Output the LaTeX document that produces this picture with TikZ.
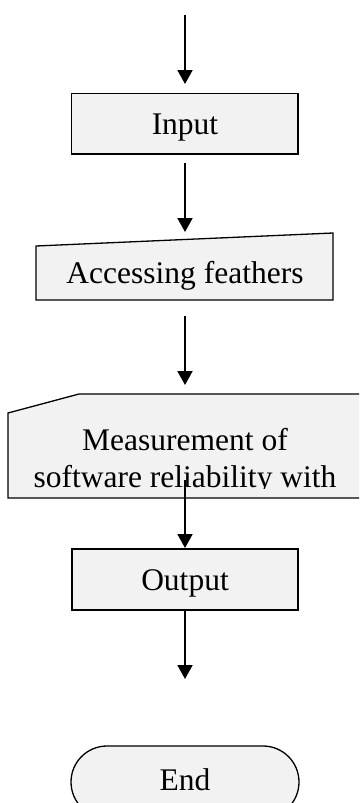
\documentclass[tikz,border=0pt]{standalone}
\usepackage{fontspec}
\setmainfont{Liberation Serif}
\usetikzlibrary{arrows.meta}
\definecolor{boxfill}{HTML}{F2F2F2}
\tikzset{
  shapebox/.style={draw=black, fill=boxfill, line width=1.3pt, line join=miter},
  label/.style={anchor=base, inner sep=0pt, font=\fontsize{31.5}{36}\selectfont},
  flow/.style={line width=2pt, -{Triangle[width=15pt,length=14pt]}}
}
\begin{document}
\begin{tikzpicture}[x=1pt,y=-1pt]
\useasboundingbox (0,0) rectangle (359,803);
\clip (0,0) rectangle (359,803);
% shapes
\path[shapebox] (71.5,93.5) rectangle (298,154);
\path[shapebox] (36,246) -- (333,233) -- (333,300) -- (36,300) -- cycle;
\path[shapebox] (8,413) -- (79,394) -- (362,394) -- (362,498) -- (8,498) -- cycle;
\path[shapebox] (72,549) rectangle (298,610);
\path[shapebox, rounded corners=36pt] (71,746) rectangle (299,818);
% texts
\node[label] (input) at (185,134) {Input};
\node[label] (access) at (185,283) {Accessing feathers};
\begin{scope}
  \clip (8,394) rectangle (362,488);
  \node[label] (meas1) at (185,450) {Measurement of};
  \node[label] (meas2) at (185,487) {software reliability with};
\end{scope}
\node[label] (output) at (185,590) {Output};
\node[label] (end) at (185,790) {End};
% connector coordinates
\coordinate (s0) at (185,15);   \coordinate (e0) at (185,84);
\coordinate (s1) at (185,163);  \coordinate (e1) at (185,232);
\coordinate (s2) at (185,316);  \coordinate (e2) at (185,385);
\coordinate (s3) at (185,480);  \coordinate (e3) at (185,548);
\coordinate (s4) at (185,610);  \coordinate (e4) at (185,679);
\draw[flow] (s0) -- (e0);
\draw[flow] (s1) -- (e1);
\draw[flow] (s2) -- (e2);
\draw[flow] (s3) -- (e3);
\draw[flow] (s4) -- (e4);
\end{tikzpicture}
\end{document}
